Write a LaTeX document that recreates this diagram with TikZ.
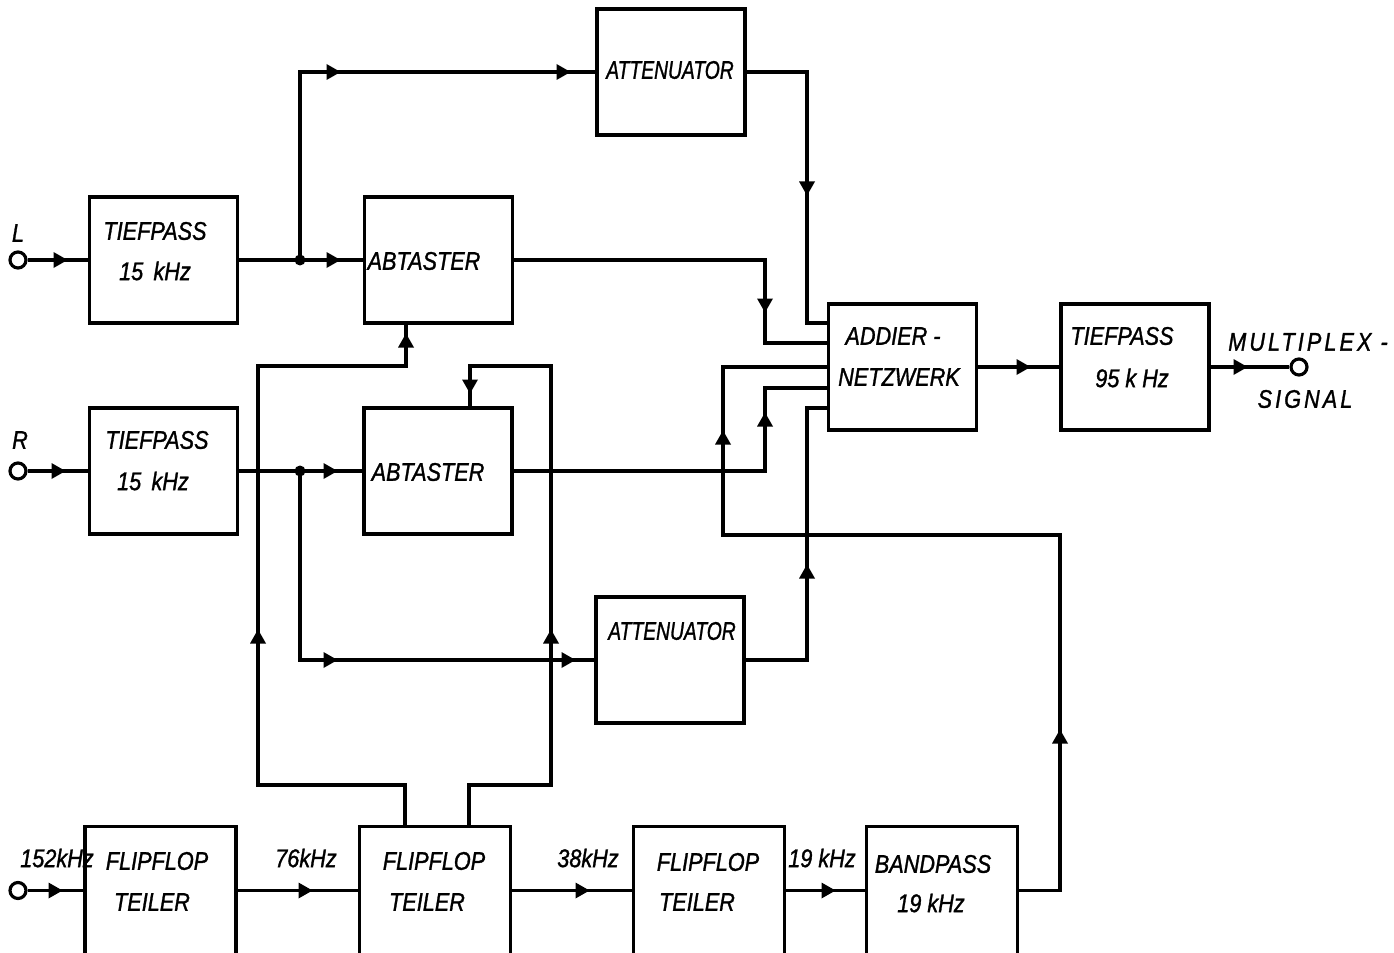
\documentclass[tikz,border=0pt]{standalone}
\usepackage{fontspec}
\newfontfamily\labfont{Liberation Sans}[FakeStretch=0.85,FakeBold=1.2]
\tikzset{
  arR/.pic={\fill (-6.5,-8) -- (7.5,0) -- (-6.5,8) -- cycle;},
  arU/.pic={\fill (-8,6.5) -- (0,-7.5) -- (8,6.5) -- cycle;},
  arD/.pic={\fill (-8,-6.5) -- (0,7.5) -- (8,-6.5) -- cycle;},
  blk/.style={draw, minimum width=2.96cm, minimum height=2.52cm, inner sep=0pt},
  openblk/.style={minimum width=2.96cm, minimum height=2.5cm, inner sep=0pt},
  txt/.style={font=\labfont\itshape\fontsize{14.5}{16}\selectfont, inner sep=0pt},
  wtxt/.style={font=\labfont\itshape\fontsize{14.5}{16}\selectfont\addfontfeature{LetterSpace=12}, inner sep=0pt},
  term/.style={circle, draw, fill=white, minimum size=0.32cm, inner sep=0pt},
  jdot/.style={circle, fill, minimum size=0.22cm, inner sep=0pt},
}
\begin{document}
\begin{tikzpicture}[x=0.02cm, y=-0.02cm, line width=1.8pt]
\useasboundingbox (0,0) rectangle (1394,953);
\fill[white] (0,0) rectangle (1394,953);

% blocks
\node[blk] (tpL) at (163.5,260) {};
\node[blk] (abL) at (438.5,260) {};
\node[blk] (att1) at (671,72) {};
\node[blk] (tpR) at (163.5,471) {};
\node[blk] (abR) at (438,471) {};
\node[blk] (att2) at (670,660) {};
\node[blk] (add) at (902.5,367) {};
\node[blk] (tpo) at (1135,367) {};
\node[openblk] (ff1) at (160.5,890.5) {};
\node[openblk] (ff2) at (435,890.5) {};
\node[openblk] (ff3) at (709,890.5) {};
\node[openblk] (bp) at (942,890.5) {};
\foreach \b in {ff1,ff2,ff3,bp}
  \draw (\b.south west) |- (\b.north east) -- (\b.south east);

% block texts
\node[txt] (t1) at (155,231) {TIEFPASS};
\node[txt] (t2) at (155,271) {15\, kHz};
\node[txt] (t3) at (424,261) {ABTASTER};
\node[txt] (t4) at (670,70) {\scalebox{0.89}[1]{ATTENUATOR}};
\node[txt] (t5) at (157,440) {TIEFPASS};
\node[txt] (t6) at (153,481) {15\, kHz};
\node[txt] (t7) at (428,472) {ABTASTER};
\node[txt] (t8) at (672,631) {\scalebox{0.89}[1]{ATTENUATOR}};
\node[txt] (t9) at (893,336) {ADDIER -};
\node[txt] (t10) at (899,377) {NETZWERK};
\node[txt] (t11) at (1122,336) {TIEFPASS};
\node[txt] (t12) at (1132,378) {95 k Hz};
\node[txt] (t13) at (157,861) {FLIPFLOP};
\node[txt] (t14) at (152,902) {TEILER};
\node[txt] (t15) at (434,861) {FLIPFLOP};
\node[txt] (t16) at (427,902) {TEILER};
\node[txt] (t17) at (708,862) {FLIPFLOP};
\node[txt] (t18) at (697,902) {TEILER};
\node[txt] (t19) at (933,864) {BANDPASS};
\node[txt] (t20) at (931,903) {19 kHz};

% other labels
\node[txt] (lL) at (18,233) {L};
\node[txt] (lR) at (20,440) {R};
\node[txt] (f1) at (57,858) {152kHz};
\node[txt] (f2) at (306,858) {76kHz};
\node[txt] (f3) at (588,858) {38kHz};
\node[txt] (f4) at (822,858) {19 kHz};
\node[wtxt] (m1) at (1308,342) {MULTIPLEX -};
\node[wtxt] (m2) at (1305,399) {SIGNAL};

% L channel
\node[term] (inL) at (18,260) {};
\draw (inL) -- (tpL.west);
\pic at (60,260) {arR};
\draw (tpL.east) -- (abL.west);
\node[jdot] (jL) at (300,260) {};
\pic at (333,260) {arR};
\draw (jL.center) |- (att1.west);
\pic at (333,72) {arR};
\pic at (563,72) {arR};
\coordinate (a1) at (807,323);
\draw (att1.east) -| (a1) -- (a1 -| add.west);
\pic at (807,188) {arD};
\coordinate (a2) at (765,343);
\draw (abL.east) -| (a2) -- (a2 -| add.west);
\pic at (765,305) {arD};

% R channel
\node[term] (inR) at (18,471) {};
\draw (inR) -- (tpR.west);
\pic at (58,471) {arR};
\draw (tpR.east) -- (abR.west);
\node[jdot] (jR) at (300,471) {};
\pic at (330,471) {arR};
\draw (jR.center) |- (att2.west);
\pic at (330,660) {arR};
\pic at (568,660) {arR};
\coordinate (a3) at (765,388);
\draw (abR.east) -| (a3) -- (a3 -| add.west);
\pic at (765,420) {arU};
\coordinate (a4) at (807,408);
\draw (att2.east) -| (a4) -- (a4 -| add.west);
\pic at (807,572) {arU};

% pilot
\coordinate (b1) at (1060,535);
\coordinate (b2) at (723,367);
\draw (bp.east) -| (b1) -| (b2) -- (add.west);
\pic at (1060,737) {arU};
\pic at (723,438) {arU};

% output
\draw (add.east) -- (tpo.west);
\pic at (1023,367) {arR};
\node[term] (out) at (1299,367) {};
\draw (tpo.east) -- (out);
\pic at (1240,367) {arR};

% divider chain
\node[term] (inF) at (18,890.5) {};
\draw (inF) -- (ff1.west);
\pic at (55,890.5) {arR};
\draw (ff1.east) -- (ff2.west);
\pic at (305,890.5) {arR};
\draw (ff2.east) -- (ff3.west);
\pic at (582,890.5) {arR};
\draw (ff3.east) -- (bp.west);
\pic at (828,890.5) {arR};

% sampling clocks
\coordinate (c1) at (258,785);
\coordinate (c2) at (258,366);
\draw ([xshift=-0.6cm]ff2.north) |- (c1) -- (c2) -| ([xshift=-0.65cm]abL.south);
\pic at (258,637) {arU};
\pic at (406,341) {arU};
\coordinate (d1) at (551,785);
\coordinate (d2) at (551,366);
\draw ([xshift=0.68cm]ff2.north) |- (d1) -- (d2) -| ([xshift=0.64cm]abR.north);
\pic at (551,637) {arU};
\pic at (470,386) {arD};
\end{tikzpicture}
\end{document}
